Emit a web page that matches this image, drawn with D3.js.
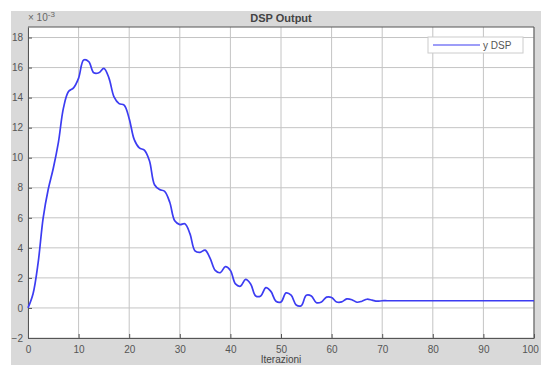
<!DOCTYPE html>
<meta charset="utf-8">
<html>
<style>
	body { margin: 0; background: #fff; font-family: "Liberation Sans", Arial, sans-serif; }
	svg { display: block; }
	.tick text { fill: #555; font-size: 10px; }
	.grid line { stroke: #c4c4c4; }
</style>
<body>
<div id="plot"></div>
<script src="https://d3js.org/d3.v7.min.js"></script>
<script>
	// y DSP, in units of 1e-3, one value per iteration (0..100)
	const iterHead = d3.range(0, 70);
	const yHead = [
		0.0, 0.95, 3.0, 6.0, 7.9, 9.3, 11.0, 13.3, 14.4, 14.65,
		15.3, 16.5, 16.4, 15.65, 15.65, 15.95, 15.3, 14.05, 13.6, 13.5,
		12.6, 11.2, 10.65, 10.5, 9.8, 8.2, 7.88, 7.76, 7.05, 5.8,
		5.55, 5.6, 4.95, 3.8, 3.7, 3.85, 3.3, 2.5, 2.35, 2.75,
		2.5, 1.6, 1.45, 1.9, 1.6, 0.8, 0.8, 1.35, 1.1, 0.45,
		0.4, 1.0, 0.85, 0.2, 0.15, 0.85, 0.8, 0.35, 0.4, 0.72,
		0.7, 0.4, 0.4, 0.6, 0.55, 0.38, 0.45, 0.58, 0.52, 0.45
	];
	const iterTail = d3.range(70, 101);
	const yTail = iterTail.map(() => 0.48);   // steady state

	const xTicks = [0, 10, 20, 30, 40, 50, 60, 70, 80, 90, 100];
	const yTicks = [-2, 0, 2, 4, 6, 8, 10, 12, 14, 16, 18];

	const iters = iterHead.concat(iterTail);
	const yvals = yHead.concat(yTail);
	const data = iters.map((d, i) => ({x: d, y: yvals[i]}));

	const W = 541, H = 365;
	const margin = {top: 27, right: 7, bottom: 27, left: 28};
	const width = W - margin.left - margin.right,
		  height = H - margin.top - margin.bottom;

	const root = d3.select("#plot").append("svg")
		.attr("width", W).attr("height", H);

	// figure background
	root.append("rect")
		.attr("x", 11).attr("y", 11)
		.attr("width", W - 11).attr("height", H - 11)
		.attr("fill", "#d9d9d9");

	const svg = root.append("g")
		.attr("transform", "translate(" + margin.left + "," + margin.top + ")");

	const x = d3.scaleLinear().domain([0, 100]).range([0, width]);
	const y = d3.scaleLinear().domain([-2, 18.7]).range([height, 0]);

	svg.append("rect")
		.attr("width", width).attr("height", height)
		.attr("fill", "#fff");

	// grid
	svg.append("g").attr("class", "grid")
		.selectAll("line").data(xTicks).join("line")
		.attr("x1", d => x(d)).attr("x2", d => x(d))
		.attr("y1", 0).attr("y2", height);
	svg.append("g").attr("class", "grid")
		.selectAll("line").data(yTicks).join("line")
		.attr("x1", 0).attr("x2", width)
		.attr("y1", d => y(d)).attr("y2", d => y(d));

	// axes
	const axX = svg.append("g")
		.attr("transform", "translate(0," + height + ")")
		.call(d3.axisBottom(x).tickValues(xTicks).tickSize(-4).tickPadding(8).tickSizeOuter(0));
	const axY = svg.append("g")
		.call(d3.axisLeft(y).tickValues(yTicks).tickSize(-4).tickPadding(5).tickSizeOuter(0));
	[axX, axY].forEach(a => {
		a.select(".domain").attr("stroke", "#555");
		a.selectAll(".tick line").attr("stroke", "#555");
	});
	// last x label sits at the figure edge; nudge it in
	axX.selectAll(".tick text").filter(d => d === 100).attr("dx", -4);

	// box top / right
	svg.append("line").attr("x1", 0).attr("x2", width).attr("y1", 0).attr("y2", 0).attr("stroke", "#555");
	svg.append("line").attr("x1", width).attr("x2", width).attr("y1", 0).attr("y2", height).attr("stroke", "#555");

	// curve
	const line = d3.line()
		.x(d => x(d.x))
		.y(d => y(d.y))
		.curve(d3.curveCatmullRom);
	svg.append("path")
		.datum(data)
		.attr("fill", "none")
		.attr("stroke", "#3c3cf2")
		.attr("stroke-width", 1.7)
		.attr("d", line);

	// exponent
	const ex = svg.append("text")
		.attr("x", 0).attr("y", -6)
		.attr("fill", "#666").attr("font-size", 10);
	ex.append("tspan").text("\u00d7 10");
	ex.append("tspan").attr("dy", -4).attr("font-size", 8).text("-3");

	// title
	root.append("text")
		.attr("x", margin.left + width / 2).attr("y", 22)
		.attr("text-anchor", "middle")
		.attr("font-weight", "bold").attr("font-size", 11)
		.attr("fill", "#444")
		.text("DSP Output");

	// x label
	root.append("text")
		.attr("x", margin.left + width / 2).attr("y", 363)
		.attr("text-anchor", "middle")
		.attr("font-size", 10).attr("fill", "#444")
		.text("Iterazioni");

	// legend
	const lg = svg.append("g").attr("transform", "translate(" + (width - 106) + ",10)");
	lg.append("rect").attr("width", 95).attr("height", 16)
		.attr("fill", "#fff").attr("stroke", "#ccc");
	lg.append("line").attr("x1", 5).attr("x2", 52).attr("y1", 8).attr("y2", 8)
		.attr("stroke", "#3c3cf2").attr("stroke-width", 1.2);
	lg.append("text").attr("x", 55).attr("y", 12)
		.attr("font-size", 10).attr("fill", "#555").text("y DSP");
</script>
</body>
</html>
